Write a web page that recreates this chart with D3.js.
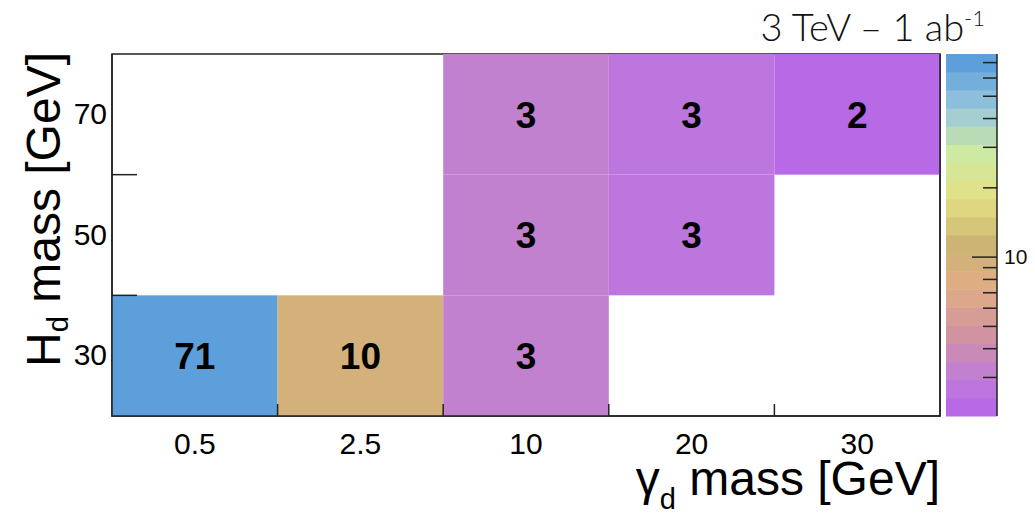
<!DOCTYPE html>
<html><head><meta charset="utf-8">
<script src="https://cdn.jsdelivr.net/npm/d3@7"></script>
<style>body{margin:0;background:#fff}</style></head>
<body><svg id="c" width="1035" height="515"></svg>
<script>
// ---- data ----
const xCategories = ["0.5", "2.5", "10", "20", "30"];
const yCategories = ["30", "50", "70"];
const cellX = ["0.5", "2.5", "10", "10", "10", "20", "20", "30"];
const cellY = ["30", "30", "30", "50", "70", "50", "70", "70"];
const cellValues = [71.2, 10.1, 3.2, 3.2, 3.2, 2.7, 2.7, 2.2];
const zLimits = [2.04, 76.3];
const zMinorTicks = [3, 4, 5, 6, 7, 8, 9, 20, 30, 40, 50, 60, 70];
const zMajorTicks = [10];
const paletteStops = [0, 0.125, 0.25, 0.375, 0.5, 0.625, 0.75, 0.875, 1];
const paletteColors = ["#b45dec", "#be7dda", "#d193a0", "#dfac85", "#ccb572", "#e4e084", "#cde9a2", "#98c6dc", "#5b9eda"];
const nContours = 20;
const xTitle = ["γ", "d", " mass [GeV]"];
const yTitle = ["H", "d", " mass [GeV]"];
const titleMain = "3 TeV – 1 ab";
const titleSup = "-1";

// ---- layout ----
const L = 112, R = 940, T = 54, B = 416;
const CB = {x0: 946, x1: 997};
const svg = d3.select("#c");

const xScale = d3.scaleBand().domain(xCategories).range([L, R]);
const yScale = d3.scaleBand().domain(yCategories).range([B, T]);
const zScale = d3.scaleLog().domain(zLimits).range([B, T]);
const palette = d3.scaleLinear().domain(paletteStops).range(paletteColors).interpolate(d3.interpolateRgb);
const ncol = 255;
function bandColor(k) {
  const p = Math.floor((k + 0.99) * ncol / nContours);
  return palette(p / ncol);
}
function bandOf(v) {
  const lz = Math.log10(zLimits[0]), hz = Math.log10(zLimits[1]);
  return Math.max(0, Math.min(nContours - 1, Math.floor((Math.log10(v) - lz) / (hz - lz) * nContours)));
}
const font = "'Liberation Sans', Arial, Helvetica, sans-serif";

// frame (top edge gets covered by cells)
svg.append("rect").attr("x", L).attr("y", T).attr("width", R - L).attr("height", B - T)
  .attr("fill", "#fff").attr("stroke", "#222").attr("stroke-width", 1.5);

// cells
const cells = cellValues.map((v, i) => ({x: cellX[i], y: cellY[i], v}));
svg.append("g").selectAll("rect").data(cells).join("rect")
  .attr("x", d => xScale(d.x)).attr("y", d => yScale(d.y))
  .attr("width", xScale.bandwidth()).attr("height", yScale.bandwidth())
  .attr("fill", d => bandColor(bandOf(d.v)));

// frame lines over cells: left, bottom, right
svg.append("path").attr("d", `M${L},${T}V${B}H${R}V${T}`).attr("fill", "none")
  .attr("stroke", "#222").attr("stroke-width", 1.5);

// boundary ticks
svg.append("g").selectAll("line").data(xCategories.slice(1)).join("line")
  .attr("x1", d => xScale(d)).attr("x2", d => xScale(d))
  .attr("y1", B).attr("y2", B - 12).attr("stroke", "#222").attr("stroke-width", 1.5);
svg.append("g").selectAll("line").data(yCategories.slice(0, -1)).join("line")
  .attr("y1", d => yScale(d)).attr("y2", d => yScale(d))
  .attr("x1", L).attr("x2", L + 25).attr("stroke", "#222").attr("stroke-width", 1.5);

// cell text
svg.append("g").selectAll("text").data(cells).join("text")
  .attr("x", d => xScale(d.x) + xScale.bandwidth() / 2)
  .attr("y", d => yScale(d.y) + yScale.bandwidth() / 2)
  .attr("dy", "0.36em").attr("text-anchor", "middle")
  .attr("font-family", font).attr("font-weight", "bold").attr("font-size", 37)
  .attr("fill", "#000").text(d => d3.format(".0f")(d.v));

// axes
const xAxis = svg.append("g").attr("transform", `translate(0,${B})`)
  .call(d3.axisBottom(xScale).tickSize(0).tickPadding(17));
xAxis.select(".domain").remove();
xAxis.selectAll("text").attr("font-family", font).attr("font-size", 30).attr("fill", "#000");
const yAxis = svg.append("g").attr("transform", `translate(${L},0)`)
  .call(d3.axisLeft(yScale).tickSize(0).tickPadding(5));
yAxis.select(".domain").remove();
yAxis.selectAll("text").attr("font-family", font).attr("font-size", 30).attr("fill", "#000");

// color bar
const bandH = (B - T) / nContours;
svg.append("g").selectAll("rect").data(d3.range(nContours)).join("rect")
  .attr("x", CB.x0).attr("width", CB.x1 - CB.x0)
  .attr("y", k => B - (k + 1) * bandH).attr("height", bandH + 0.5)
  .attr("fill", k => bandColor(k));
svg.append("line").attr("x1", CB.x1).attr("x2", CB.x1).attr("y1", T).attr("y2", B)
  .attr("stroke", "#222").attr("stroke-width", 1.5);
svg.append("g").selectAll("line").data(zMinorTicks).join("line")
  .attr("x1", CB.x1).attr("x2", CB.x1 - 14).attr("y1", d => zScale(d)).attr("y2", d => zScale(d))
  .attr("stroke", "#222").attr("stroke-width", 1.5);
svg.append("g").selectAll("line").data(zMajorTicks).join("line")
  .attr("x1", CB.x1).attr("x2", CB.x1 - 25).attr("y1", d => zScale(d)).attr("y2", d => zScale(d))
  .attr("stroke", "#222").attr("stroke-width", 1.5);
svg.append("g").selectAll("text").data(zMajorTicks).join("text")
  .attr("x", CB.x1 + 7).attr("y", d => zScale(d)).attr("dy", "0.35em")
  .attr("font-family", font).attr("font-size", 21).attr("fill", "#111").text(d => d);

// axis titles
const xt = svg.append("text").attr("x", R).attr("y", 495).attr("text-anchor", "end")
  .attr("font-family", font).attr("font-size", 48).attr("fill", "#000");
xt.append("tspan").text(xTitle[0]);
xt.append("tspan").attr("font-size", 29).attr("dy", 14).text(xTitle[1]);
xt.append("tspan").attr("dy", -14).text(xTitle[2]);

const yt = svg.append("text").attr("transform", `translate(60,52) rotate(-90)`).attr("text-anchor", "end")
  .attr("font-family", font).attr("font-size", 48).attr("fill", "#000");
yt.append("tspan").text(yTitle[0]);
yt.append("tspan").attr("font-size", 29).attr("dy", 8).text(yTitle[1]);
yt.append("tspan").attr("dy", -8).text(yTitle[2]);

// title
const tt = svg.append("text").attr("x", 985).attr("y", 41).attr("text-anchor", "end")
  .attr("font-family", "Lato, 'Open Sans', sans-serif").attr("font-weight", 300)
  .attr("font-size", 38).attr("fill", "#111");
tt.append("tspan").text(titleMain);
tt.append("tspan").attr("font-size", 22).attr("dy", -15).text(titleSup);
</script>
</body></html>
